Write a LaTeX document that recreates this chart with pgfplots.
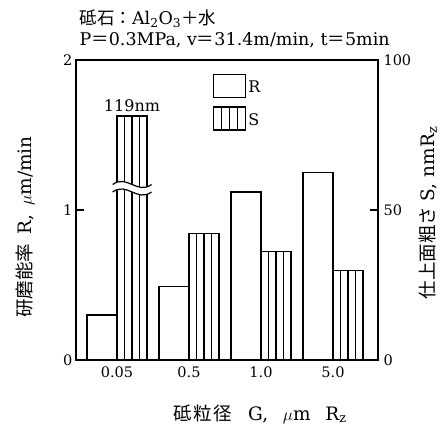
\documentclass[border=0pt]{standalone}
\usepackage{fontspec}
\setmainfont{DejaVu Serif}
\newfontfamily\cjk{Noto Sans CJK JP}
\usepackage{pgfplots}
\pgfplotsset{compat=1.18}

% R bars (removal rate, left axis)
\pgfplotstableread{
g R
0 0.30
1 0.49
2 1.12
3 1.25
}\rdata
% S bars (surface roughness, right axis); first value is broken (119 nm)
\pgfplotstableread{
g S
0 81.3
1 42.2
2 36.1
3 29.8
}\sdata

\newcommand\fs{\fontsize{14.5}{18}\selectfont}
\newcommand\lfs{\fontsize{18.5}{22}\selectfont}
\pgfplotsset{
  common/.style={
    scale only axis, width=302pt, height=300pt,
    xmin=-0.569, xmax=3.625,
    axis line style={line width=1.5pt},
    tick align=inside, major tick length=8pt,
    tick style={line width=1.2pt, black},
    /pgf/number format/assume math mode=true,
    ticklabel style={font=\fs},
    label style={font=\lfs},
  },
  sbar/.style={ybar, bar width=0.1043, fill=white, draw=black, line width=1.2pt},
}

\begin{document}
\begin{tikzpicture}[font=\fs]

\begin{axis}[common,
  ymin=0, ymax=2, ytick={0,1,2}, ytick pos=left,
  xtick={0,1,2,3}, xticklabels={0.05,0.5,1.0,5.0},
  xtick style={draw=none},
  xticklabel style={yshift=-3pt},
  xlabel={{\cjk 砥\hspace{0.08em}粒\hspace{0.08em}径}\hspace{0.9em}G,\hspace{0.8em}$\mu$m\hspace{0.8em}R\textsubscript{z}},
  xlabel style={at={(rel axis cs:0.609,-0.18)}, anchor=center},
  ylabel={{\cjk 研磨能率}\hspace{0.5em}R,\hspace{0.5em}$\mu$m/min},
  ylabel style={at={(rel axis cs:-0.168,0.443)}, anchor=center},
  title={{\cjk 砥石：}Al\textsubscript{2}O\textsubscript{3}{\cjk ＋水}\\
    P{\cjk ＝}0.3MPa, v{\cjk ＝}31.4m/min, t{\cjk ＝}5min},
  title style={at={(rel axis cs:0.0,1.01)}, anchor=south west, align=left,
    font=\fontsize{17.5}{21}\selectfont},
]
\addplot[ybar, bar width=0.417, bar shift=-0.2085, fill=white, draw=black,
  line width=1.2pt] table[x=g, y=R] {\rdata};
\end{axis}

\begin{axis}[common,
  ymin=0, ymax=100, ytick={0,50,100},
  ytick pos=right, yticklabel pos=right,
  yticklabel style={xshift=2pt},
  xtick=\empty,
  ylabel={{\cjk 仕上面粗さ} S, nmR\textsubscript{z}},
  ylabel style={at={(rel axis cs:1.165,0.49)}, anchor=center},
  legend style={draw=none, fill=none, at={(0.4536,0.953)},
    anchor=north west, row sep=8pt, inner sep=0pt,
    font=\fontsize{16}{18}\selectfont},
  legend cell align=left,
]
\addlegendimage{legend image code/.code={
  \draw[line width=1.2pt] (0pt,-10pt) rectangle (32pt,13pt);}}
\addlegendentry{R}
\addplot[sbar, bar shift=0.0522,
  legend image code/.code={
    \draw[line width=1.2pt] (0pt,-10pt) rectangle (32pt,13pt);
    \draw[line width=1.2pt] (8pt,-10pt) -- (8pt,13pt)
      (16pt,-10pt) -- (16pt,13pt) (24pt,-10pt) -- (24pt,13pt);}]
  table[x=g, y=S] {\sdata};
\addlegendentry{S}
\addplot[sbar, bar shift=0.1565, forget plot] table[x=g, y=S] {\sdata};
\addplot[sbar, bar shift=0.2608, forget plot] table[x=g, y=S] {\sdata};
\addplot[sbar, bar shift=0.3651, forget plot] table[x=g, y=S] {\sdata};

% axis break on the first S bar
\fill[white] (axis cs:-0.06,58.5) .. controls (axis cs:0.14,62) and (axis cs:0.28,55) .. (axis cs:0.48,58.5)
  -- (axis cs:0.48,56) .. controls (axis cs:0.28,52.5) and (axis cs:0.14,59.5) .. (axis cs:-0.06,56) -- cycle;
\draw[line width=1.2pt] (axis cs:-0.06,58.5) .. controls (axis cs:0.14,62) and (axis cs:0.28,55) .. (axis cs:0.48,58.5);
\draw[line width=1.2pt] (axis cs:-0.06,56) .. controls (axis cs:0.14,59.5) and (axis cs:0.28,52.5) .. (axis cs:0.48,56);
\node[anchor=south, inner sep=4pt, font=\fontsize{16}{18}\selectfont] at (axis cs:0.2085,81.3) {119nm};
\end{axis}

\pgfresetboundingbox
\useasboundingbox (-76pt,-68pt) rectangle (371pt,360pt);
\end{tikzpicture}
\end{document}
